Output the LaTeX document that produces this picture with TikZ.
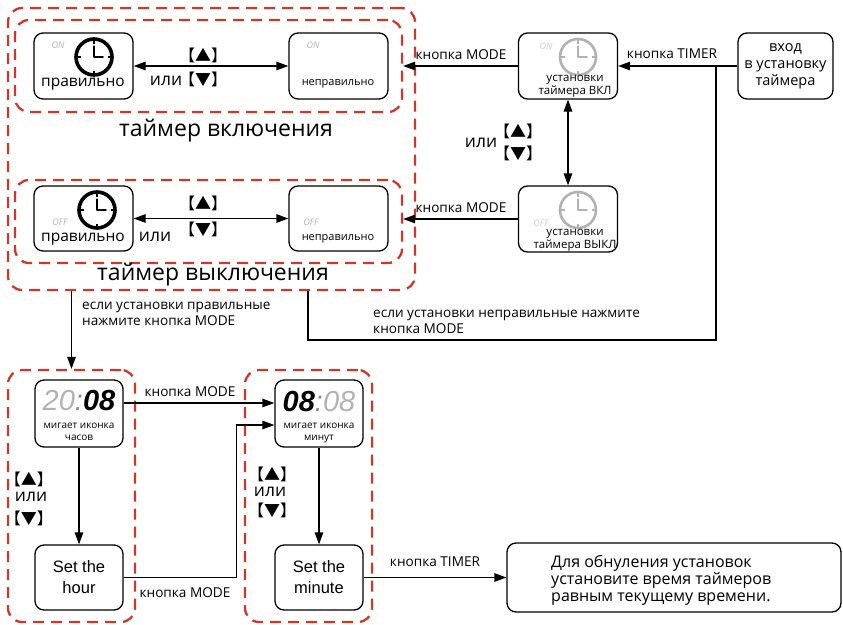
\documentclass[tikz,border=0pt]{standalone}
\usepackage{fontspec}
\setmainfont{Open Sans}
\newfontfamily\cjk{Noto Sans CJK SC}
\newfontfamily\arial{Liberation Sans}
\usetikzlibrary{arrows.meta,positioning,calc}
\definecolor{dashred}{RGB}{204,56,44}
\newcommand{\keyup}{{\cjk\fontsize{16}{16}\selectfont【▲】}}
\newcommand{\keydown}{{\cjk\fontsize{16}{16}\selectfont【▼】}}
\newcommand{\clockicon}[5]{%
	\draw[#4,line width=#5pt] (#1,#2) circle (#3pt);
	\draw[#4,line width=1.8pt,line cap=round] (#1,#2) -- ++(0pt,0.6*#3pt) (#1,#2) -- ++(0.5*#3pt,0pt);
	\foreach \a in {0,90,180,270}
		\draw[#4,line width=1.2pt] (#1,#2) ++(\a:#3pt) -- ++(\a:-4.5pt);
}

\begin{document}
\begin{tikzpicture}[
		x=1pt,y=-1pt,
		>={Triangle[length=12pt,width=8.5pt]},
		box/.style={
			draw,
			line width=1.3pt,
			rounded corners=9pt,
			minimum width=99pt,
			minimum height=66pt,
			inner sep=0pt
		},
		narrowbox/.style={
			box,
			minimum width=88pt
		},
		group/.style={
			draw=dashred,
			line width=2.3pt,
			dash pattern=on 11pt off 7pt,
			rounded corners=14pt,
			inner sep=0pt
		},
		flow/.style={
			line width=1.3pt
		},
		lbl/.style={font=\fontsize{13.6}{16}\selectfont,inner sep=0pt,align=left},
		ortext/.style={font=\fontsize{17.5}{20}\selectfont,inner sep=0pt},
		bigtext/.style={font=\fontsize{15.5}{18}\selectfont,inner sep=0pt},
		smalltext/.style={font=\fontsize{11.5}{12.5}\selectfont,inner sep=0pt,align=center},
		tag/.style={font=\fontsize{9}{9}\selectfont\itshape,text=black!30,inner sep=0pt},
		titletext/.style={font=\fontsize{23}{26}\selectfont,inner sep=0pt},
		lcd/.style={font=\arial\fontsize{29}{29}\selectfont\itshape,inner sep=0pt},
		settext/.style={font=\arial\fontsize{16.5}{21}\selectfont,align=center,inner sep=0pt}
		]
		\useasboundingbox (0,0) rectangle (843,624);

		\node[group,minimum width=407pt,minimum height=282pt] (timergroup) at (211.5,149) {};
		\node[group,minimum width=387pt,minimum height=92pt] (ongroup) at (208.5,66) {};
		\node[group,minimum width=387pt,minimum height=83pt] (offgroup) at (208.5,221.5) {};
		\node[group,minimum width=127pt,minimum height=252pt] (hourgroup) at (71.5,496) {};
		\node[group,minimum width=127pt,minimum height=252pt] (mingroup) at (308.5,496) {};
		\node[titletext] (ontitle) at (226,131) {таймер включения};
		\node[titletext] (offtitle) at (213,275) {таймер выключения};

		\node[box] (onok) at (83.5,66) {};
		\node[tag] (onoktag) at (58,45) {ON};
		\clockicon{94}{57}{18}{black}{3.6}
		\node[bigtext] (onoktxt) at (83,84) {правильно};
		\node[box] (onbad) at (338.5,66) {};
		\node[tag] (onbadtag) at (313,45) {ON};
		\node[smalltext,font=\fontsize{11}{12}\selectfont] (onbadtxt) at (338,84) {неправильно};

		\node[box,minimum height=65pt] (offok) at (83.5,218.5) {};
		\node[tag] (offoktag) at (60,222) {OFF};
		\clockicon{97}{210}{18}{black}{3.6}
		\node[bigtext] (offoktxt) at (83,239) {правильно};
		\node[box,minimum height=65pt] (offbad) at (338.5,218.5) {};
		\node[tag] (offbadtag) at (311,222) {OFF};
		\node[smalltext,font=\fontsize{11}{12}\selectfont] (offbadtxt) at (338,239) {неправильно};

		\node[box] (ontimer) at (568,66) {};
		\node[tag,text=black!20] (ontimertag) at (546,46) {ON};
		\clockicon{578}{57}{18}{black!30}{2.6}
		\node[smalltext] (ontimertxt) at (575,86) {установки\\таймера ВКЛ};
		\node[box] (offtimer) at (568,219) {};
		\node[tag,text=black!20] (offtimertag) at (541,223) {OFF};
		\clockicon{578}{210}{18}{black!30}{2.6}
		\node[smalltext] (offtimertxt) at (575,240) {установки\\таймера ВЫКЛ};
		\node[box,minimum width=95pt,font=\fontsize{14.5}{17}\selectfont,align=center] (entry) at (785.5,66) {вход\\в установку\\таймера};

		\draw[flow,<->] (onok) -- (onbad);
		\node[lbl] (onup) at (203,55) {\keyup};
		\node[ortext] (onor) at (166,81) {или};
		\node[lbl] (ondown) at (203,79) {\keydown};
		\draw[flow,<->] (offok) -- (offbad);
		\node[lbl] (offup) at (203,203) {\keyup};
		\node[ortext] (offor) at (155,237) {или};
		\node[lbl] (offdown) at (203,229) {\keydown};

		\draw[flow,->] (ontimer.west) -- (ontimer.west -| ongroup.east);
		\node[lbl] (onmode) at (461,55) {кнопка MODE};
		\draw[flow,->] (offtimer.west) -- (offtimer.west -| offgroup.east);
		\node[lbl] (offmode) at (461,208) {кнопка MODE};
		\draw[flow,->] (entry.west) -- (ontimer.east);
		\node[lbl] (entrytimer) at (672,54) {кнопка TIMER};
		\draw[flow,<->] (ontimer) -- (offtimer);
		\node[ortext] (timeror) at (481,143) {или};
		\node[lbl] (timerup) at (518,131) {\keyup};
		\node[lbl] (timerdown) at (518,153) {\keydown};

		\coordinate (split) at (716,66);
		\coordinate (back) at (308,340);
		\draw[flow] (split) |- (back) -- (back |- timergroup.south);
		\node[lbl,anchor=west] (badnote) at (373,322) {если установки неправильные нажмите\\кнопка MODE};
		\draw[flow,->] (hourgroup.north |- timergroup.south) -- (hourgroup.north);
		\node[lbl,anchor=west] (oknote) at (82,314) {если установки правильные\\нажмите кнопка MODE};

		\node[narrowbox,minimum height=67pt] (hourshow) at (79,413.5) {};
		\node[lcd] (hourdigits) at (79,401) {{\color{black!30}20}{\color{black!45}:}{\bfseries 08}};
		\node[smalltext,font=\fontsize{10}{11.5}\selectfont] (hourtxt) at (79,432) {мигает иконка\\часов};
		\node[narrowbox,minimum height=65pt,settext] (hourset) at (79,577.5) {Set the\\hour};
		\node[narrowbox,minimum height=67pt] (minshow) at (319,413.5) {};
		\node[lcd] (mindigits) at (319,402) {{\bfseries 08}{\color{black!45}:}{\color{black!30}08}};
		\node[smalltext,font=\fontsize{10}{11.5}\selectfont] (mintxt) at (319,433) {мигает иконка\\минут};
		\node[narrowbox,minimum height=65pt,settext] (minset) at (319,577.5) {Set the\\minute};
		\node[box,minimum width=334pt,minimum height=69pt] (reset) at (674,577.5) {};
		\node[lbl,anchor=west,font=\fontsize{16}{17}\selectfont] (resettxt) at (551,580) {Для обнуления установок\\установите время таймеров\\равным текущему времени.};

		\draw[flow,->] (hourshow) -- (hourset);
		\node[lbl] (hourup) at (29,479) {\keyup};
		\node[ortext] (houror) at (31,497) {или};
		\node[lbl] (hourdown) at (29,518) {\keydown};
		\draw[flow,->] (minshow) -- (minset);
		\node[lbl] (minup) at (272,474) {\keyup};
		\node[ortext] (minor) at (270,492) {или};
		\node[lbl] (mindown) at (272,510) {\keydown};

		\draw[flow,->] ([yshift=10.5pt]hourshow.east) -- ([yshift=10.5pt]minshow.west);
		\node[lbl] (showmode) at (190,392) {кнопка MODE};
		\draw[flow,->] (hourset.east) -| ([xshift=-38pt,yshift=-11.5pt]minshow.west) -- ([yshift=-11.5pt]minshow.west);
		\node[lbl] (setmode) at (185,593) {кнопка MODE};
		\draw[flow,->] (minset) -- (reset);
		\node[lbl] (settimer) at (435,562) {кнопка TIMER};
		\end{tikzpicture}
\end{document}
